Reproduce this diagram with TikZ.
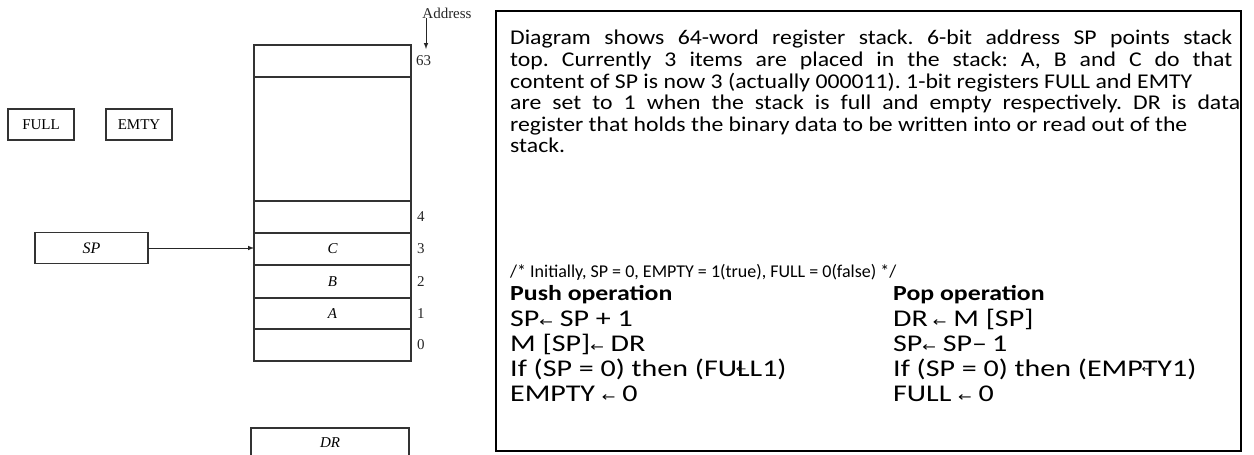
\documentclass[tikz,border=0pt]{standalone}
\usepackage{graphicx}
\usepackage{fontspec}
\setmainfont{Liberation Serif}
\newfontfamily\descfont{Carlito}
\newfontfamily\arrfont{DejaVu Sans}
\usetikzlibrary{positioning, calc, arrows}

\newcommand{\getsarr}{{\arrfont\fontsize{13}{13}\selectfont ←}}
\newcommand{\lostarr}{\makebox[0pt][l]{\kern-1pt\raisebox{0.3ex}{\arrfont\fontsize{10}{10}\selectfont ←}}}
\newcommand{\wider}[2]{\scalebox{#1}[1]{#2}}

\tikzset{
  cell/.style={draw=black!80, line width=1.2pt, minimum width=157pt, minimum height=32pt, inner sep=0pt, outer sep=0pt, font=\fontsize{15}{15}\selectfont\itshape},
  flag/.style={draw=black!80, line width=1.2pt, minimum width=66pt, minimum height=31pt, inner sep=0pt, outer sep=0pt, font=\fontsize{15}{15}\selectfont},
  num/.style={inner sep=0pt, font=\fontsize{15}{15}\selectfont, text=black!85},
  txt/.style={anchor=base west, inner sep=0pt, font=\descfont\fontsize{21}{21}\selectfont},
  code/.style={anchor=base west, inner sep=0pt, font=\descfont\fontsize{24}{24}\selectfont},
}

\begin{document}
\frenchspacing
\begin{tikzpicture}[x=1pt, y=-1pt]

  \clip (0,0) rectangle (1254,455);

  % stack of 64 words

  \node[cell, label={[num, name=n63, label distance=5pt]right:63}] (r63) at (332.5,61) {};
  \node[cell, minimum height=124pt, below=0pt of r63] (rgap) {};
  \node[cell, below=0pt of rgap, label={[num, label distance=6pt]right:4}] (r4) {};
  \node[cell, below=0pt of r4, label={[num, label distance=6pt]right:3}] (r3) {C};
  \node[cell, minimum height=33pt, below=0pt of r3, label={[num, label distance=6pt]right:2}] (r2) {B};
  \node[cell, minimum height=31pt, below=0pt of r2, label={[num, label distance=6pt]right:1}] (r1) {A};
  \node[cell, below=0pt of r1, label={[num, label distance=6pt]right:0}] (r0) {};

  \node[num] (address) at (447,13) {Address};
  \coordinate (atip) at (426,49);
  \draw[-latex, black!85, line width=1pt] (address.south -| atip) -- (atip);

  % registers

  \node[flag] (full) at (41,124.5) {FULL};
  \node[flag] (emty) at (139,124.5) {EMTY};

  \node[flag, minimum width=113pt, font=\fontsize{16}{16}\selectfont\itshape] (sp) at (91.5,248) {SP};
  \draw[-latex, black!85, line width=1pt] (sp.east) -- (sp.east -| r3.west);

  \node[cell, minimum width=158pt, minimum height=42pt] (dr) at (330,449) {};
  \node[font=\fontsize{15}{15}\selectfont\itshape] at (330,443) {DR};

  % description box

  \node[draw, line width=2.4pt, minimum width=745pt, minimum height=440pt, outer sep=0pt] (desc) at (868.5,231) {};

  \node[txt] (p1) at (510,45) {\wider{1.13}{\makebox[639pt][s]{Diagram shows 64-word register stack. 6-bit address SP points stack}}};
  \node[txt] (p2) at (510,66.5) {\wider{1.13}{\makebox[639pt][s]{top. Currently 3 items are placed in the stack: A, B and C do that}}};
  \node[txt] (p3) at (510,88) {\wider{1.13}{content of SP is now 3 (actually 000011). 1-bit registers FULL and EMTY}};
  \node[txt] (p4) at (510,109.5) {\wider{1.13}{\makebox[646pt][s]{are set to 1 when the stack is full and empty respectively. DR is data}}};
  \node[txt] (p5) at (510,131) {\wider{1.13}{register that holds the binary data to be written into or read out of the}};
  \node[txt] (p6) at (510,152.5) {\wider{1.13}{stack.}};

  % push and pop

  \node[txt, font=\descfont\fontsize{18}{18}\selectfont] (init) at (510,277) {/* Initially, SP = 0, EMPTY = 1(true), FULL = 0(false) */};
  \node[txt, font=\descfont\bfseries\fontsize{21.5}{21.5}\selectfont] (push) at (510,300) {\wider{1.2}{Push operation}};
  \node[txt, font=\descfont\bfseries\fontsize{21.5}{21.5}\selectfont] (pop) at (893,300) {\wider{1.2}{Pop operation}};

  \node[code] (push1) at (510,326) {\wider{1.25}{SP\getsarr\ SP + 1}};
  \node[code] (push2) at (510,351) {\wider{1.25}{M [SP]\getsarr\ DR}};
  \node[code] (push3) at (510,376) {\wider{1.25}{If (SP = 0) then (FU\lostarr LL1)}};
  \node[code] (push4) at (510,401) {\wider{1.25}{EMPTY \getsarr\ 0}};

  \node[code] (pop1) at (893,326) {\wider{1.25}{DR\,\getsarr\ M [SP]}};
  \node[code] (pop2) at (893,351) {\wider{1.25}{SP\getsarr\ SP–\,1}};
  \node[code] (pop3) at (893,376) {\wider{1.25}{If (SP = 0) then (EMP\lostarr TY1)}};
  \node[code] (pop4) at (893,401) {\wider{1.25}{FULL \getsarr\ 0}};

\end{tikzpicture}
\end{document}
